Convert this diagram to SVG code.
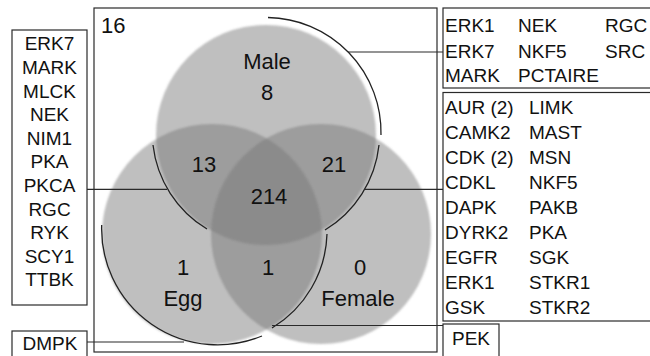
<svg xmlns="http://www.w3.org/2000/svg" width="650" height="356" viewBox="0 0 650 356">
<defs>
<filter id="soft" x="-10%" y="-10%" width="120%" height="120%"><feGaussianBlur stdDeviation="0.9"/></filter>
</defs>
<style>
.box{fill:none;stroke:#2a2a2a;stroke-width:1.2}
.ln{fill:none;stroke:#2a2a2a;stroke-width:1.2}
.arc{fill:none;stroke:#222;stroke-width:1.3}
.c{fill:#787878;fill-opacity:0.47}
.t{font-family:"Liberation Sans",Arial,sans-serif;font-size:19px;fill:#111}
.v{font-family:"Liberation Sans",Arial,sans-serif;font-size:22px;fill:#111;text-anchor:middle}
.m{text-anchor:middle}
</style>
<rect width="650" height="356" fill="#fff"/>
<g id="venn" filter="url(#soft)">
<circle class="c" cx="266" cy="135" r="110"/>
<circle class="c" cx="212" cy="234" r="110"/>
<circle class="c" cx="321" cy="234" r="110"/>
</g>
<g id="frame">
<rect class="box" x="94" y="8" width="343" height="344" stroke-width="1.4"/>
<text class="v" x="101" y="33" style="text-anchor:start">16</text>
</g>
<g id="male-label">
<text class="v" x="267" y="69">Male</text>
<text class="v" x="267" y="100">8</text>
</g>
<g id="region-13"><text class="v" x="204" y="171.5">13</text></g>
<g id="region-21"><text class="v" x="334" y="171.5">21</text></g>
<g id="region-214"><text class="v" x="269" y="203.5">214</text></g>
<g id="egg-label">
<text class="v" x="183" y="275">1</text>
<text class="v" x="183" y="306">Egg</text>
</g>
<g id="region-egg-female"><text class="v" x="268" y="275">1</text></g>
<g id="female-label">
<text class="v" x="360" y="275">0</text>
<text class="v" x="358" y="306">Female</text>
</g>
<g id="connectors">
<path class="arc" d="M268,17.5 A115,115 0 0 1 381,135"/>
<path class="arc" d="M153,145 A113,113 0 0 0 207,229"/>
<path class="arc" d="M379,145 A113.5,113.5 0 0 1 325,230"/>
<path class="arc" d="M101.7,225 A116,116 0 0 0 262,336"/>
<path class="arc" d="M327,234 A114,114 0 0 1 272,328"/>
<line class="ln" x1="87" y1="189.3" x2="167" y2="189.3"/>
<line class="ln" x1="87" y1="342" x2="184" y2="342"/>
<line class="ln" x1="348" y1="52" x2="443" y2="52"/>
<line class="ln" x1="365" y1="189.3" x2="443" y2="189.3"/>
<line class="ln" x1="272" y1="325.5" x2="443" y2="325.5"/>
</g>
<g id="box-egg-male">
<rect class="box" x="12" y="30" width="75" height="275"/>
<text class="t m" x="49.5" y="50.3">ERK7</text>
<text class="t m" x="49.5" y="73.9">MARK</text>
<text class="t m" x="49.5" y="97.5">MLCK</text>
<text class="t m" x="49.5" y="121.1">NEK</text>
<text class="t m" x="49.5" y="144.7">NIM1</text>
<text class="t m" x="49.5" y="168.3">PKA</text>
<text class="t m" x="49.5" y="191.9">PKCA</text>
<text class="t m" x="49.5" y="215.5">RGC</text>
<text class="t m" x="49.5" y="239.1">RYK</text>
<text class="t m" x="49.5" y="262.7">SCY1</text>
<text class="t m" x="49.5" y="286.3">TTBK</text>
</g>
<g id="box-egg">
<rect class="box" x="12" y="331" width="75" height="40"/>
<text class="t m" x="50" y="350">DMPK</text>
</g>
<g id="box-male">
<rect class="box" x="443" y="8" width="230" height="80"/>
<text class="t" x="445" y="32.3">ERK1</text>
<text class="t" x="518" y="32.3">NEK</text>
<text class="t" x="605" y="32.3">RGC</text>
<text class="t" x="445" y="57.7">ERK7</text>
<text class="t" x="518" y="57.7">NKF5</text>
<text class="t" x="605" y="57.7">SRC</text>
<text class="t" x="445" y="82.3">MARK</text>
<text class="t" x="518" y="82.3">PCTAIRE</text>
</g>
<g id="box-male-female">
<rect class="box" x="443" y="92.5" width="230" height="228.5"/>
<text class="t" x="445" y="113.5">AUR (2)</text>
<text class="t" x="529" y="113.5">LIMK</text>
<text class="t" x="445" y="138.5">CAMK2</text>
<text class="t" x="529" y="138.5">MAST</text>
<text class="t" x="445" y="163.5">CDK (2)</text>
<text class="t" x="529" y="163.5">MSN</text>
<text class="t" x="445" y="188.5">CDKL</text>
<text class="t" x="529" y="188.5">NKF5</text>
<text class="t" x="445" y="213.5">DAPK</text>
<text class="t" x="529" y="213.5">PAKB</text>
<text class="t" x="445" y="238.5">DYRK2</text>
<text class="t" x="529" y="238.5">PKA</text>
<text class="t" x="445" y="263.5">EGFR</text>
<text class="t" x="529" y="263.5">SGK</text>
<text class="t" x="445" y="288.5">ERK1</text>
<text class="t" x="529" y="288.5">STKR1</text>
<text class="t" x="445" y="313.5">GSK</text>
<text class="t" x="529" y="313.5">STKR2</text>
</g>
<g id="box-egg-female">
<rect class="box" x="443" y="324" width="56" height="40"/>
<text class="t" x="452" y="345">PEK</text>
</g>
</svg>
